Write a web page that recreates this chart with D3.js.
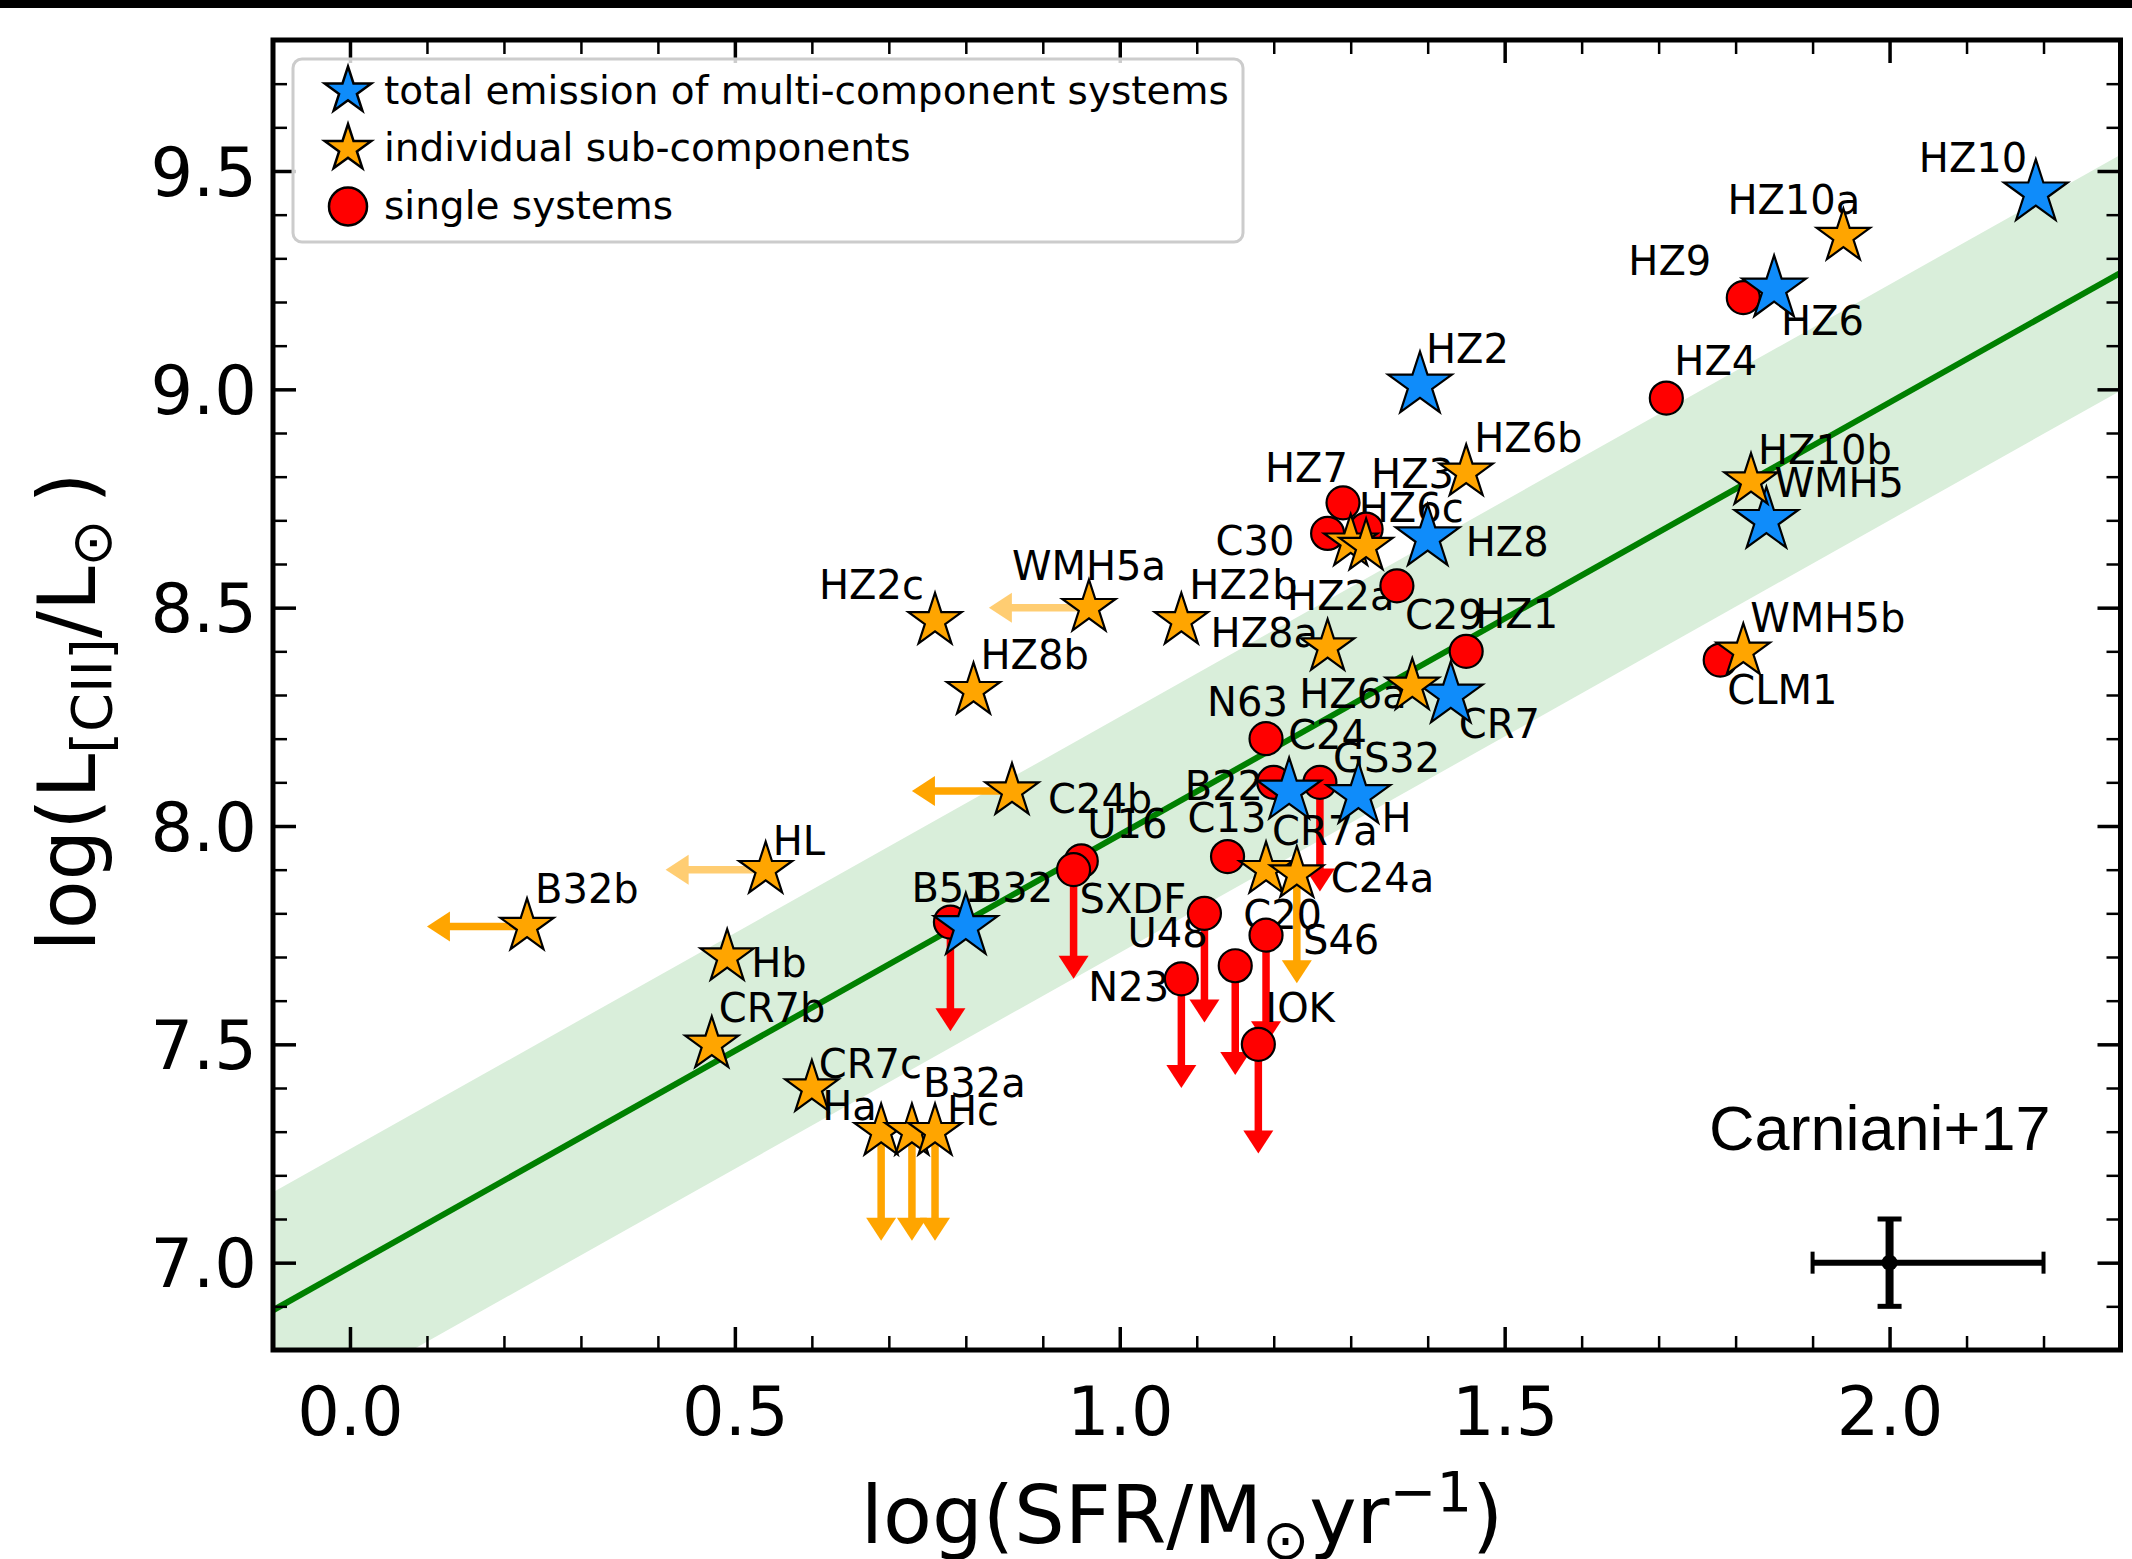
<!DOCTYPE html>
<html>
<head>
<meta charset="utf-8">
<script src="https://cdn.jsdelivr.net/npm/d3@7"></script>
<style>
  html, body { margin: 0; padding: 0; background: #fff; }
  svg { display: block; }
</style>
</head>
<body>
<svg id="chart" width="2132" height="1559"></svg>
<script>
// ---------------- data ----------------
// Multi-component systems: total emission
const totalNames  = ["HZ10", "HZ6", "HZ2", "HZ8", "WMH5", "CR7", "C24", "H", "B32"];
const totalLogSFR = [2.19, 1.85, 1.39, 1.40, 1.84, 1.43, 1.22, 1.31, 0.80];
const totalLogL   = [9.45, 9.23, 9.01, 8.66, 8.70, 8.30, 8.08, 8.07, 7.77];

// Individual sub-components
const compNames  = ["HZ10a", "HZ10b", "WMH5b", "HZ6b", "HZ6c", "HZ2a", "HZ8a", "HZ6a", "HZ2b", "HZ2c",
                    "WMH5a", "HZ8b", "C24b", "CR7a", "C24a", "HL", "B32b", "Hb", "CR7b", "CR7c",
                    "Ha", "B32a", "Hc"];
const compLogSFR = [1.94, 1.82, 1.81, 1.45, 1.30, 1.32, 1.27, 1.38, 1.08, 0.76,
                    0.96, 0.81, 0.86, 1.19, 1.23, 0.54, 0.23, 0.49, 0.47, 0.60,
                    0.69, 0.73, 0.76];
const compLogL   = [9.35, 8.79, 8.40, 8.81, 8.65, 8.64, 8.41, 8.32, 8.47, 8.47,
                    8.50, 8.31, 8.08, 7.90, 7.89, 7.90, 7.77, 7.70, 7.50, 7.40,
                    7.30, 7.30, 7.30];

// Single systems
const singleNames  = ["HZ9", "HZ4", "CLM1", "HZ7", "C30", "HZ3", "C29", "HZ1", "N63", "B22",
                      "GS32", "C13", "U16", "SXDF", "B51", "U48", "S46", "C20", "N23", "IOK"];
const singleLogSFR = [1.81, 1.71, 1.78, 1.29, 1.27, 1.32, 1.36, 1.45, 1.19, 1.20,
                      1.26, 1.14, 0.95, 0.94, 0.78, 1.11, 1.19, 1.15, 1.08, 1.18];
const singleLogL   = [9.21, 8.98, 8.38, 8.74, 8.67, 8.68, 8.55, 8.40, 8.20, 8.10,
                      8.10, 7.93, 7.92, 7.90, 7.78, 7.80, 7.75, 7.68, 7.65, 7.50];

// Upper limits on L[CII] (downward arrows) and on SFR (leftward arrows)
const lumUpperLimits = ["GS32", "SXDF", "B51", "U48", "S46", "C20", "N23", "IOK", "C24a", "Ha", "B32a", "Hc"];
const sfrUpperLimits = ["WMH5a", "C24b", "HL", "B32b"];
const tentativeLimits = ["WMH5a", "HL"];
const lumArrowLength = 0.25;   // dex
const sfrArrowLength = 0.13;   // dex

// Local relation and its dispersion
const fitSlope = 0.99, fitIntercept = 6.99, fitScatter = 0.27;

// Typical uncertainty
const typicalError = { sfr: 2.0, lum: 7.0, sfrLo: 0.1, sfrHi: 0.2, lumErr: 0.1 };

// Axis ticks
const xMajorTicks = [0.0, 0.5, 1.0, 1.5, 2.0];
const xTickLabels = ["0.0", "0.5", "1.0", "1.5", "2.0"];
const yMajorTicks = [7.0, 7.5, 8.0, 8.5, 9.0, 9.5];
const yTickLabels = ["7.0", "7.5", "8.0", "8.5", "9.0", "9.5"];

const legendLabels = ["total emission of multi-component systems", "individual sub-components", "single systems"];

// Label placement (pixels from the marker centre to the text start / baseline)
const labelOffsets = {
  HZ10: [-115, -21], HZ6: [9, 46], HZ2: [8, -22], HZ8: [40, 18], WMH5: [10, -23], CR7: [10, 43],
  C24: [1, -42], H: [25, 37], B32: [11, -24],
  HZ10a: [-114, -23], HZ10b: [9, -17], WMH5b: [9, -19], HZ6b: [10, -20], HZ6c: [10, -20],
  HZ2a: [-77, 63], HZ8a: [-115, 0], HZ6a: [-111, 22], HZ2b: [10, -22], HZ2c: [-114, -22],
  WMH5a: [-75, -28], HZ8b: [9, -22], C24b: [38, 22], CR7a: [8, -25], C24a: [36, 18], HL: [9, -15],
  B32b: [10, -23], Hb: [26, 20], CR7b: [9, -22], CR7c: [9, -10], Ha: [-57, -12], B32a: [13, -35],
  Hc: [14, -7],
  HZ9: [-113, -23], HZ4: [10, -23], CLM1: [9, 44], HZ7: [-76, -21], C30: [-110, 22], HZ3: [7, -41],
  C29: [10, 43], HZ1: [11, -23], N63: [-57, -23], B22: [-87, 18], GS32: [15, -10], C13: [-38, -25],
  U16: [8, -23], SXDF: [8, 43], B51: [-37, -20], U48: [-75, 34], S46: [39, 19], C20: [10, -37],
  N23: [-91, 22], IOK: [9, -22]
};

// ---------------- layout ----------------
const W = 2132, H = 1559;
const frame = { left: 273, right: 2120.5, top: 40, bottom: 1350 };
const COL = { blue: "#0f8cfa", orange: "#ffa500", red: "#ff0000", band: "#d9eeda", fit: "#008000" };
const FONT = "DejaVu Sans";

const x = d3.scaleLinear().domain([-0.1, 2.3]).range([frame.left, frame.right]);
const y = d3.scaleLinear().domain([6.8, 9.8]).range([frame.bottom, frame.top]);

const svg = d3.select("#chart");
svg.append("rect").attr("width", W).attr("height", H).attr("fill", "#fff");
svg.append("rect").attr("width", W).attr("height", 8).attr("fill", "#000");

svg.append("defs").append("clipPath").attr("id", "plotClip")
  .append("rect")
  .attr("x", frame.left).attr("y", frame.top)
  .attr("width", frame.right - frame.left).attr("height", frame.bottom - frame.top);

const plot = svg.append("g").attr("clip-path", "url(#plotClip)");

// relation band and best fit
const fit = s => fitIntercept + fitSlope * s;
plot.append("path")
  .datum(x.domain())
  .attr("d", d3.area().x(d => x(d)).y0(d => y(fit(d) - fitScatter)).y1(d => y(fit(d) + fitScatter)))
  .attr("fill", COL.band);
plot.append("path")
  .datum(x.domain())
  .attr("d", d3.line().x(d => x(d)).y(d => y(fit(d))))
  .attr("fill", "none").attr("stroke", COL.fit).attr("stroke-width", 6);

// gather points
const points = [];
totalNames.forEach((n, i) => points.push({ name: n, kind: "total", sfr: totalLogSFR[i], lum: totalLogL[i] }));
compNames.forEach((n, i) => points.push({ name: n, kind: "comp", sfr: compLogSFR[i], lum: compLogL[i] }));
singleNames.forEach((n, i) => points.push({ name: n, kind: "single", sfr: singleLogSFR[i], lum: singleLogL[i] }));
const byName = Object.fromEntries(points.map(p => [p.name, p]));
const colorOf = p => p.kind === "total" ? COL.blue : p.kind === "comp" ? COL.orange : COL.red;

// name labels
svg.append("g").selectAll("text").data(points).join("text")
  .attr("x", p => x(p.sfr) + labelOffsets[p.name][0] - 2)
  .attr("y", p => y(p.lum) + labelOffsets[p.name][1])
  .attr("font-family", FONT).attr("font-size", 40).attr("fill", "#000")
  .text(p => p.name);

// limit arrows
const shaftW = 7.5, headW = 30, headL = 23;
const arrows = plot.append("g");
lumUpperLimits.forEach(n => {
  const p = byName[n];
  const px = x(p.sfr), py = y(p.lum), tip = y(p.lum - lumArrowLength);
  const c = colorOf(p);
  arrows.append("line").attr("x1", px).attr("x2", px).attr("y1", py).attr("y2", tip - headL + 1)
    .attr("stroke", c).attr("stroke-width", shaftW);
  arrows.append("path")
    .attr("d", d3.line()([[px - headW / 2, tip - headL], [px + headW / 2, tip - headL], [px, tip]]) + "Z")
    .attr("fill", c);
});
sfrUpperLimits.forEach(n => {
  const p = byName[n];
  const px = x(p.sfr), py = y(p.lum), tip = x(p.sfr - sfrArrowLength);
  const g = arrows.append("g").attr("opacity", tentativeLimits.includes(n) ? 0.55 : 1);
  g.append("line").attr("x1", px).attr("x2", tip + headL - 1).attr("y1", py).attr("y2", py)
    .attr("stroke", COL.orange).attr("stroke-width", shaftW);
  g.append("path")
    .attr("d", d3.line()([[tip + headL, py - headW / 2], [tip + headL, py + headW / 2], [tip, py]]) + "Z")
    .attr("fill", COL.orange);
});

// markers
const STAR_K = 0.8908130915292852;
const starSize = R => R * R / STAR_K;
const symbolPath = p => p.kind === "single"
  ? d3.symbol(d3.symbolCircle, Math.PI * 16.5 * 16.5)()
  : d3.symbol(d3.symbolStar, starSize(p.kind === "total" ? 33.5 : 28))();
const drawOrder = ["single", "total", "comp"];
svg.append("g").selectAll("path")
  .data(drawOrder.flatMap(k => points.filter(p => p.kind === k)))
  .join("path")
  .attr("transform", p => `translate(${x(p.sfr)},${y(p.lum)})`)
  .attr("d", symbolPath)
  .attr("fill", colorOf)
  .attr("stroke", "#000").attr("stroke-width", 2.2).attr("stroke-linejoin", "miter");

// typical uncertainty
const eb = svg.append("g").attr("stroke", "#000");
const ex = x(typicalError.sfr), ey = y(typicalError.lum);
const exl = x(typicalError.sfr - typicalError.sfrLo), exh = x(typicalError.sfr + typicalError.sfrHi);
const eyt = y(typicalError.lum + typicalError.lumErr), eyb = y(typicalError.lum - typicalError.lumErr);
eb.append("line").attr("x1", exl).attr("x2", exh).attr("y1", ey).attr("y2", ey).attr("stroke-width", 6);
eb.append("line").attr("x1", exl).attr("x2", exl).attr("y1", ey - 11).attr("y2", ey + 11).attr("stroke-width", 4);
eb.append("line").attr("x1", exh).attr("x2", exh).attr("y1", ey - 11).attr("y2", ey + 11).attr("stroke-width", 4);
eb.append("line").attr("x1", ex).attr("x2", ex).attr("y1", eyt).attr("y2", eyb).attr("stroke-width", 8);
eb.append("line").attr("x1", ex - 12).attr("x2", ex + 12).attr("y1", eyt).attr("y2", eyt).attr("stroke-width", 5);
eb.append("line").attr("x1", ex - 12).attr("x2", ex + 12).attr("y1", eyb).attr("y2", eyb).attr("stroke-width", 5);
eb.append("circle").attr("cx", ex).attr("cy", ey).attr("r", 8).attr("fill", "#000").attr("stroke", "none");

// axes (ticks point inwards on all four sides)
const xMinorTicks = d3.range(-1, 24).map(i => i / 10).filter(v => !xMajorTicks.some(m => Math.abs(m - v) < 1e-6));
const yMinorTicks = d3.range(68, 99).map(i => i / 10).filter(v => !yMajorTicks.some(m => Math.abs(m - v) < 1e-6));
const MAJ = 23, MIN = 14;

function drawAxis(axisGen, tx, ty, values, size, width, fmt, pad) {
  const g = svg.append("g").attr("transform", `translate(${tx},${ty})`)
    .call(axisGen.tickValues(values).tickSize(-size).tickPadding(pad || 0).tickFormat(fmt || (() => "")));
  g.select(".domain").remove();
  g.selectAll(".tick line").attr("stroke", "#000").attr("stroke-width", width);
  return g;
}
const xLab = d => xTickLabels[xMajorTicks.indexOf(d)];
const yLab = d => yTickLabels[yMajorTicks.indexOf(d)];

const gxb = drawAxis(d3.axisBottom(x), 0, frame.bottom, xMajorTicks, MAJ, 3.5, xLab, 37);
drawAxis(d3.axisBottom(x), 0, frame.bottom, xMinorTicks, MIN, 2.5);
drawAxis(d3.axisTop(x), 0, frame.top, xMajorTicks, MAJ, 3.5);
drawAxis(d3.axisTop(x), 0, frame.top, xMinorTicks, MIN, 2.5);
const gyl = drawAxis(d3.axisLeft(y), frame.left, 0, yMajorTicks, MAJ, 3.5, yLab, 16);
drawAxis(d3.axisLeft(y), frame.left, 0, yMinorTicks, MIN, 2.5);
drawAxis(d3.axisRight(y), frame.right, 0, yMajorTicks, MAJ, 3.5);
drawAxis(d3.axisRight(y), frame.right, 0, yMinorTicks, MIN, 2.5);

[gxb, gyl].forEach(g => g.selectAll(".tick text")
  .attr("font-family", FONT).attr("font-size", 67).attr("fill", "#000"));
gyl.selectAll(".tick text").attr("dy", "0.36em");

// frame
svg.append("rect")
  .attr("x", frame.left).attr("y", frame.top)
  .attr("width", frame.right - frame.left).attr("height", frame.bottom - frame.top)
  .attr("fill", "none").attr("stroke", "#000").attr("stroke-width", 5);

// axis titles
const xt = svg.append("text").attr("x", 1182).attr("y", 1543).attr("text-anchor", "middle")
  .attr("font-family", FONT).attr("font-size", 80).attr("fill", "#000");
xt.append("tspan").text("log(SFR/M");
xt.append("tspan").attr("font-size", 56).attr("dy", 16).text("\u2299");
xt.append("tspan").attr("dy", -16).text("yr");
xt.append("tspan").attr("font-size", 56).attr("dy", -32).text("\u22121");
xt.append("tspan").attr("dy", 32).text(")");

const yt = svg.append("text").attr("transform", "translate(95,712) rotate(-90)").attr("text-anchor", "middle")
  .attr("font-family", FONT).attr("font-size", 80).attr("fill", "#000");
yt.append("tspan").text("log(L");
yt.append("tspan").attr("font-size", 56).attr("dy", 16).text("[CII]");
yt.append("tspan").attr("dy", -16).text("/L");
yt.append("tspan").attr("font-size", 56).attr("dy", 16).text("\u2299");
yt.append("tspan").attr("dy", -16).text("\u2009)");

// reference tag
svg.append("text").attr("x", 1709).attr("y", 1150)
  .attr("font-family", "Liberation Sans, Arial, sans-serif").attr("font-size", 63).attr("fill", "#000")
  .text("Carniani+17");

// legend
const leg = svg.append("g");
leg.append("rect").attr("x", 293).attr("y", 59).attr("width", 950).attr("height", 183).attr("rx", 9)
  .attr("fill", "#fff").attr("fill-opacity", 0.8).attr("stroke", "#cccccc").attr("stroke-width", 3);
const legendKinds = [
  { kind: "total", row: 91 },
  { kind: "comp", row: 148.5 },
  { kind: "single", row: 206.5 }
];
legendKinds.forEach((d, i) => {
  const p = { kind: d.kind };
  leg.append("path")
    .attr("transform", `translate(348,${d.row})`)
    .attr("d", d.kind === "single" ? d3.symbol(d3.symbolCircle, Math.PI * 19 * 19)() : d3.symbol(d3.symbolStar, starSize(24.5))())
    .attr("fill", colorOf(p)).attr("stroke", "#000").attr("stroke-width", 2.5);
  leg.append("text").attr("x", 384).attr("y", d.row + 12.5)
    .attr("font-family", FONT).attr("font-size", 39).attr("fill", "#000")
    .text(legendLabels[i]);
});
</script>
</body>
</html>
